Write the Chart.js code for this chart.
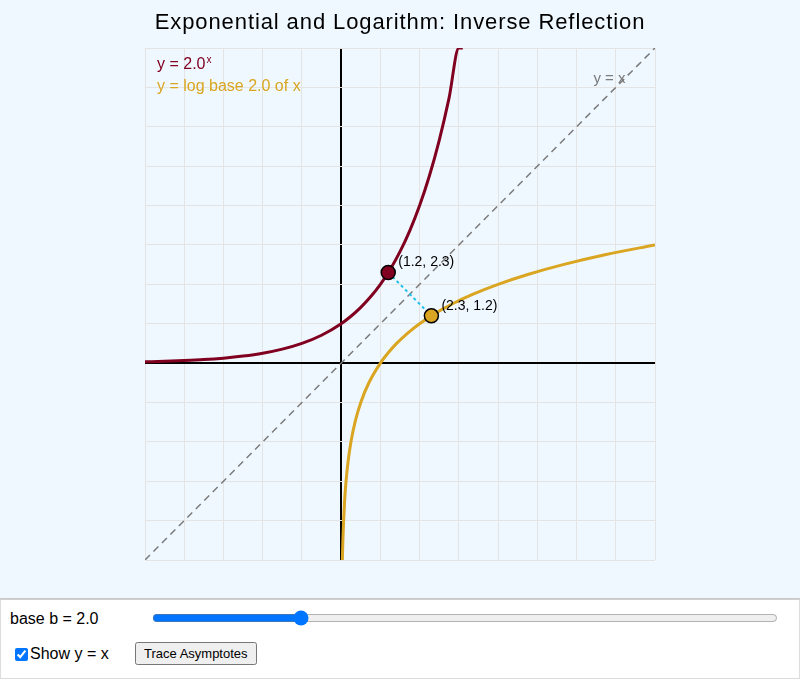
<!DOCTYPE html>
<html>
<head>
<meta charset="utf-8">
<script src="https://cdn.jsdelivr.net/npm/chart.js@4.4.1/dist/chart.umd.min.js"></script>
<style>
  body { margin: 0; font-family: "Liberation Sans", Arial, sans-serif; background: #fff; }
  #panel { width: 800px; height: 598px; background: #f0f8ff; border-bottom: 1px solid #c8c8c8; }
  #controls { position: relative; width: 798px; height: 78px; border: 1px solid #dcdcdc; border-top: 1px solid #d0d0d0; }
  #baseLabel { position: absolute; left: 9px; top: 10px; font-size: 16px; color: #000; }
  #baseSlider { position: absolute; left: 151px; top: 10px; width: 626px; margin: 0; }
  #showRow { position: absolute; left: 12px; top: 45px; font-size: 16px; }
  #showRow input { margin: 0 2px 0 2px; vertical-align: -2px; width: 13px; height: 13px; }
  #traceBtn { position: absolute; left: 134px; top: 42px; font-size: 13px; font-family: "Liberation Sans", Arial, sans-serif; padding: 2px 7px; }
</style>
</head>
<body>
<div id="panel"><canvas id="graphicFirst" width="800" height="598"></canvas></div>
<div id="controls">
  <span id="baseLabel">base b = 2.0</span>
  <input id="baseSlider" type="range" min="0.5" max="7" step="0.1" value="2.0">
  <label id="showRow"><input type="checkbox" checked>Show y = x</label>
  <button id="traceBtn">Trace Asymptotes</button>
</div>
<script>
// Exponencial y logaritmo - reflexion inversa
// Libreria: Chart.js

// --- rango de ejes
const xMin = -5, xMax = 8;
const yMin = -5, yMax = 8;

// --- curva y = 2^x
const expX = [-5, -4.5, -4, -3.5, -3, -2.5, -2, -1.5, -1, -0.5, 0, 0.25, 0.5, 0.75, 1, 1.25, 1.5, 1.75, 2, 2.25, 2.5, 2.75, 3, 3.1];
const expY = [0.031, 0.044, 0.063, 0.088, 0.125, 0.177, 0.25, 0.354, 0.5, 0.707, 1, 1.189, 1.414, 1.682, 2, 2.378, 2.828, 3.364, 4, 4.757, 5.657, 6.727, 8, 8];

// --- curva log base 2 (reflejo de la anterior)
const logX = expY.slice(0, 23);
const logY = expX.slice(0, 23);

// --- punto trazado
const traceX = 1.2;
const traceY = 2.3;

const chartTitle = 'Exponential and Logarithm: Inverse Reflection';
const colorExp = '#800020';
const colorLog = '#DAA520';

function toPoints(xs, ys){
  return xs.map((x, i) => ({x: x, y: ys[i]}));
}

const labelsPlugin = {
  id: 'labelsPlugin',
  afterDraw(chart){
    const ctx = chart.ctx;
    const sx = chart.scales.x, sy = chart.scales.y;
    ctx.save();
    //--titulo
    ctx.textBaseline = 'alphabetic';
    ctx.textAlign = 'left';
    ctx.fillStyle = '#000';
    ctx.font = '22px "Liberation Sans", Arial, sans-serif';
    ctx.letterSpacing = '0.9px';
    let tw = ctx.measureText(chartTitle).width;
    ctx.fillText(chartTitle, chart.width / 2 - tw / 2, 29);
    ctx.letterSpacing = '0px';

    //--leyenda
    ctx.font = '16px "Liberation Sans", Arial, sans-serif';
    ctx.fillStyle = colorExp;
    let lx = chart.chartArea.left + 12;
    ctx.fillText('y = 2.0', lx, chart.chartArea.top + 21);
    let w = ctx.measureText('y = 2.0').width;
    ctx.font = '10px "Liberation Sans", Arial, sans-serif';
    ctx.fillText('x', lx + w + 1, chart.chartArea.top + 15);
    ctx.font = '16px "Liberation Sans", Arial, sans-serif';
    ctx.fillStyle = colorLog;
    ctx.fillText('y = log base 2.0 of x', lx, chart.chartArea.top + 43);

    //--etiqueta y = x
    ctx.font = '15px "Liberation Sans", Arial, sans-serif';
    ctx.fillStyle = 'rgba(110,110,110,0.9)';
    ctx.fillText('y = x', sx.getPixelForValue(6.43), sy.getPixelForValue(7.1));

    //--etiquetas de puntos
    ctx.font = '14px "Liberation Sans", Arial, sans-serif';
    ctx.fillStyle = '#000';
    ctx.fillText('(' + traceX.toFixed(1) + ', ' + traceY.toFixed(1) + ')', sx.getPixelForValue(traceX) + 10, sy.getPixelForValue(traceY) - 6);
    ctx.fillText('(' + traceY.toFixed(1) + ', ' + traceX.toFixed(1) + ')', sx.getPixelForValue(traceY) + 10, sy.getPixelForValue(traceX) - 6);
    ctx.restore();
  }
};

function gridColor(c){
  return c.tick && c.tick.value === 0 ? '#000' : '#e4e4e4';
}
function gridWidth(c){
  return c.tick && c.tick.value === 0 ? 2 : 1;
}

let chart1;
function drawFirstElement(){
  var ctx = document.getElementById('graphicFirst').getContext('2d');
  if (chart1) {
    chart1.destroy();
  }
  chart1 = new Chart(ctx, {
    type: 'scatter',
    data: {
      datasets: [
        {
          label: 'y = x',
          data: [{x: xMin, y: yMin}, {x: xMax, y: yMax}],
          showLine: true,
          borderColor: '#7a7a7a',
          borderWidth: 1.5,
          borderDash: [7, 5],
          pointRadius: 0,
          order: 5
        },
        {
          label: 'exp',
          data: toPoints(expX, expY),
          showLine: true,
          borderColor: colorExp,
          borderWidth: 3,
          pointRadius: 0,
          cubicInterpolationMode: 'monotone',
          order: 4
        },
        {
          label: 'log',
          data: toPoints(logX, logY),
          showLine: true,
          borderColor: colorLog,
          borderWidth: 3,
          pointRadius: 0,
          cubicInterpolationMode: 'monotone',
          order: 3
        },
        {
          label: 'reflexion',
          data: [{x: traceX, y: traceY}, {x: traceY, y: traceX}],
          showLine: true,
          borderColor: '#1fc0ea',
          borderWidth: 2,
          borderDash: [3, 3],
          pointRadius: 0,
          order: 2
        },
        {
          label: 'puntos',
          data: [{x: traceX, y: traceY}, {x: traceY, y: traceX}],
          showLine: false,
          pointRadius: 7,
          pointBorderWidth: 1.5,
          pointBorderColor: '#000',
          pointBackgroundColor: [colorExp, colorLog],
          order: 1
        }
      ]
    },
    plugins: [labelsPlugin],
    options: {
      responsive: false,
      animation: false,
      layout: { padding: { left: 145, right: 145, top: 48, bottom: 38 } },
      plugins: {
        legend: { display: false },
        tooltip: { enabled: false },
        title: { display: false }
      },
      scales: {
        x: {
          type: 'linear', min: xMin, max: xMax,
          ticks: { display: false, stepSize: 1 },
          grid: { color: gridColor, lineWidth: gridWidth, drawTicks: false },
          border: { display: false }
        },
        y: {
          type: 'linear', min: yMin, max: yMax,
          ticks: { display: false, stepSize: 1 },
          grid: { color: gridColor, lineWidth: gridWidth, drawTicks: false },
          border: { display: false }
        }
      }
    }
  });
}

drawFirstElement();
</script>
</body>
</html>
